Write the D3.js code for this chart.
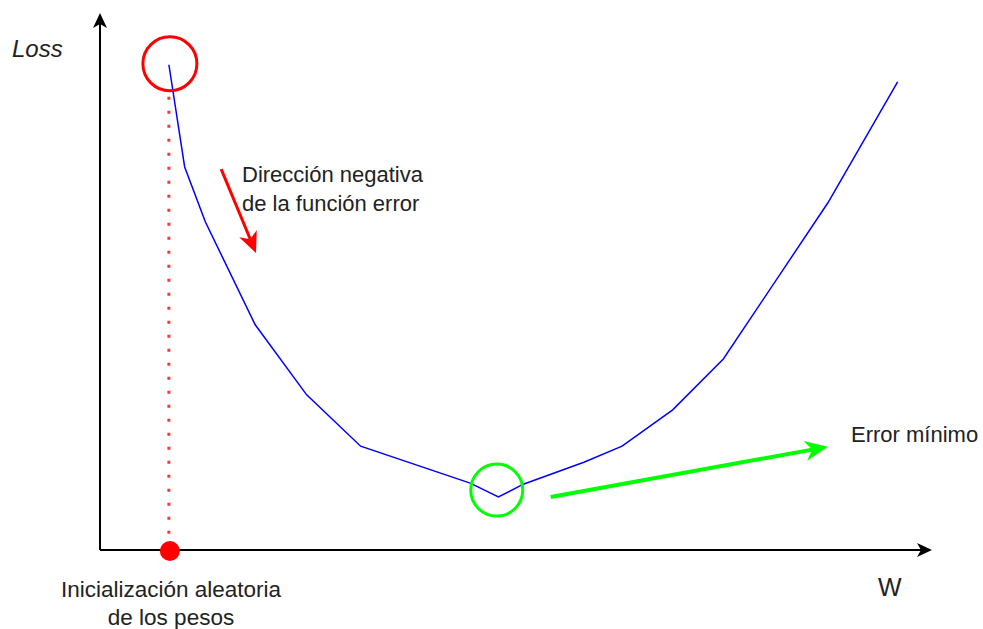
<!DOCTYPE html>
<html>
<head>
<meta charset="utf-8">
<script src="https://cdn.jsdelivr.net/npm/d3@7"></script>
<style>
  body { margin: 0; background: #fff; }
  svg { display: block; }
  text { font-family: "Liberation Sans", Arial, Helvetica, sans-serif; fill: #222; }
</style>
</head>
<body>
<div id="vis"></div>
<script>
// weights and loss
var weights = [0.83, 1.02, 1.27, 1.87, 2.49, 3.14, 4.46, 4.80, 5.10, 5.83, 6.29, 6.90, 7.51, 8.77, 9.61];
var losses  = [9.07, 7.16, 6.13, 4.21, 2.90, 1.94, 1.25, 0.99, 1.23, 1.64, 1.94, 2.62, 3.57, 6.49, 8.75];

// annotation anchors, in the same w / loss units
var startPoint = [0.83, 9.07];
var minPoint = [4.78, 1.12];
var redArrow = [[1.46, 7.12], [1.88, 5.55]];
var greenArrow = [[5.43, 0.99], [8.77, 1.93]];

var noteLines = ['Dirección negativa', 'de la función error'];
var initLines = ['Inicialización aleatoria', 'de los pesos'];

var width = 983,
	height = 629;

var svg = d3.select('#vis').append('svg')
	.attr('width', width)
	.attr('height', height);

var x = d3.scaleLinear().domain([0, 10]).range([100, 930]);
var y = d3.scaleLinear().domain([0, 10]).range([550, 15]);

var data = weights.map(function(w, i) {
	return { w: w, loss: losses[i] };
});

// arrow heads: tip sits `n` px past the end of the line
var defs = svg.append('defs');
function addHead(id, color, L, W, n) {
	defs.append('marker')
		.attr('id', id)
		.attr('markerUnits', 'userSpaceOnUse')
		.attr('viewBox', (-L) + ' ' + (-W) + ' ' + (2 * L) + ' ' + (2 * W))
		.attr('markerWidth', 2 * L)
		.attr('markerHeight', 2 * W)
		.attr('refX', 0)
		.attr('refY', 0)
		.attr('orient', 'auto')
		.append('path')
		.attr('d', 'M' + n + ',0 L' + (n - L) + ',' + (-W / 2) + ' L0,0 L' + (n - L) + ',' + (W / 2) + ' Z')
		.attr('fill', color);
}
addHead('head-black', '#000', 15, 14, 11);
addHead('head-red', '#ff0000', 21, 19, 15);
addHead('head-green', '#00ff00', 23, 20, 16);

// shorten a segment so the marker tip lands on the end point
function shorten(p0, p1, d) {
	var dx = p1[0] - p0[0], dy = p1[1] - p0[1];
	var len = Math.sqrt(dx * dx + dy * dy);
	return [p1[0] - dx / len * d, p1[1] - dy / len * d];
}

// axes
var x0 = x(0), y0 = y(0);
var xEnd = shorten([x0, y0], [932, y0], 11);
var yEnd = shorten([x0, y0], [x0, 13], 11);
svg.append('line')
	.attr('x1', x0).attr('y1', y0)
	.attr('x2', xEnd[0]).attr('y2', xEnd[1])
	.attr('stroke', '#000').attr('stroke-width', 2)
	.attr('marker-end', 'url(#head-black)');
svg.append('line')
	.attr('x1', x0).attr('y1', y0)
	.attr('x2', yEnd[0]).attr('y2', yEnd[1])
	.attr('stroke', '#000').attr('stroke-width', 2)
	.attr('marker-end', 'url(#head-black)');

// dotted drop line from the starting weight
svg.append('line')
	.attr('x1', x(startPoint[0])).attr('y1', y(startPoint[1]) + 32)
	.attr('x2', x(startPoint[0])).attr('y2', y0 - 8)
	.attr('stroke', '#ff3333')
	.attr('stroke-width', 3)
	.attr('stroke-dasharray', '3 11');

// loss curve
var line = d3.line()
	.x(function(d) { return x(d.w); })
	.y(function(d) { return y(d.loss); });

svg.append('path')
	.datum(data)
	.attr('d', line)
	.attr('fill', 'none')
	.attr('stroke', '#0000ff')
	.attr('stroke-width', 1.5);

// circles
svg.append('circle')
	.attr('cx', x(startPoint[0]) + 1)
	.attr('cy', y(startPoint[1]) - 1)
	.attr('r', 27)
	.attr('fill', 'none')
	.attr('stroke', '#ff0000')
	.attr('stroke-width', 3);

svg.append('circle')
	.attr('cx', x(minPoint[0]))
	.attr('cy', y(minPoint[1]))
	.attr('r', 26)
	.attr('fill', 'none')
	.attr('stroke', '#00ff00')
	.attr('stroke-width', 3);

svg.append('circle')
	.attr('cx', x(startPoint[0]) + 1)
	.attr('cy', y0 + 1)
	.attr('r', 10)
	.attr('fill', '#ff0000');

// annotation arrows
function drawArrow(pts, color, w, head, n) {
	var p0 = [x(pts[0][0]), y(pts[0][1])];
	var p1 = [x(pts[1][0]), y(pts[1][1])];
	var e = shorten(p0, p1, n);
	svg.append('line')
		.attr('x1', p0[0]).attr('y1', p0[1])
		.attr('x2', e[0]).attr('y2', e[1])
		.attr('stroke', color)
		.attr('stroke-width', w)
		.attr('marker-end', 'url(#' + head + ')');
}
drawArrow(redArrow, '#ff0000', 3, 'head-red', 15);
drawArrow(greenArrow, '#00ff00', 4, 'head-green', 16);

// labels
svg.append('text')
	.attr('x', 12).attr('y', 57)
	.style('font-size', '24px')
	.style('font-style', 'italic')
	.text('Loss');

svg.append('text')
	.attr('x', 878).attr('y', 596)
	.style('font-size', '25px')
	.text('W');

svg.selectAll('.note')
	.data(noteLines)
	.enter().append('text')
	.attr('class', 'note')
	.attr('x', 242)
	.attr('y', function(d, i) { return 182 + i * 29; })
	.style('font-size', '22px')
	.text(function(d) { return d; });

svg.append('text')
	.attr('x', 851).attr('y', 442)
	.style('font-size', '22px')
	.text('Error mínimo');

svg.selectAll('.init')
	.data(initLines)
	.enter().append('text')
	.attr('class', 'init')
	.attr('x', 171)
	.attr('y', function(d, i) { return 597 + i * 28; })
	.attr('text-anchor', 'middle')
	.style('font-size', '22.5px')
	.text(function(d) { return d; });
</script>
</body>
</html>
